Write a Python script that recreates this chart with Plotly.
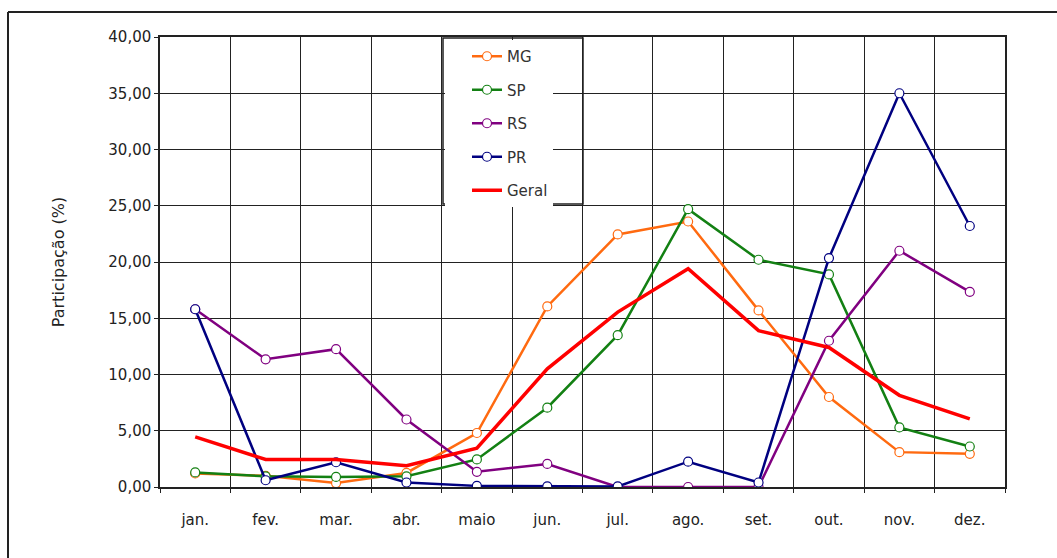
import plotly.graph_objects as go

months = ["jan.", "fev.", "mar.", "abr.", "maio", "jun.", "jul.", "ago.", "set.", "out.", "nov.", "dez."]
mg = [1.2, 1.0, 0.35, 1.25, 4.8, 16.05, 22.45, 23.6, 15.7, 8.0, 3.1, 2.95]
sp = [1.3, 0.95, 0.9, 0.95, 2.45, 7.05, 13.5, 24.7, 20.2, 18.9, 5.3, 3.6]
rs = [15.8, 11.35, 12.25, 6.0, 1.35, 2.05, 0.0, 0.0, 0.0, 13.0, 21.0, 17.35]
pr = [15.8, 0.6, 2.2, 0.4, 0.1, 0.05, 0.05, 2.25, 0.4, 20.35, 35.0, 23.2]
geral = [4.45, 2.45, 2.45, 1.9, 3.45, 10.5, 15.55, 19.4, 13.9, 12.4, 8.15, 6.05]

series = [
    ("MG", mg, "#ff6a10"),
    ("SP", sp, "#138013"),
    ("RS", rs, "#800080"),
    ("PR", pr, "#000080"),
]

fig = go.Figure()
for name, vals, col in series:
    fig.add_trace(go.Scatter(
        x=months, y=vals, name=name, mode="lines+markers",
        line=dict(color=col, width=2.5),
        marker=dict(symbol="circle", size=9, color="white", line=dict(color=col, width=1.2)),
        legendgroup=name,
    ))
fig.add_trace(go.Scatter(
    x=months, y=geral, name="Geral", mode="lines",
    line=dict(color="#ff0000", width=3.5), legendgroup="Geral",
))

W, H = 1057, 558
L, R, T, B = 160, 52, 37, 71
pw, ph = W - L - R, H - T - B

def px(x):
    return (x - L) / pw

def py(y):
    return (H - B - y) / ph

fig.update_layout(
    width=W, height=H,
    margin=dict(l=L, r=R, t=T, b=B),
    paper_bgcolor="white", plot_bgcolor="white",
    separators=",.",
    font=dict(family="DejaVu Sans", size=15, color="#222"),
    showlegend=True,
    legend=dict(
        x=px(445), y=py(40), xanchor="left", yanchor="top",
        bgcolor="white", borderwidth=0,
        font=dict(family="DejaVu Sans", size=15, color="#333"),
        traceorder="grouped", tracegroupgap=11, indentation=22,
    ),
    xaxis=dict(
        type="category", tickson="boundaries",
        showgrid=True, gridcolor="#222", gridwidth=1,
        showline=True, mirror=True, linecolor="#222", linewidth=1.5,
        ticks="outside", ticklen=4, tickcolor="#222",
        ticklabelstandoff=18,
        tickfont=dict(family="DejaVu Sans", size=15, color="#222"),
        range=[-0.5, 11.5],
    ),
    yaxis=dict(
        range=[0, 40], dtick=5, tick0=0, tickformat=".2f",
        showgrid=True, gridcolor="#222", gridwidth=1,
        showline=True, mirror=True, linecolor="#222", linewidth=1.5,
        ticks="outside", ticklen=4, tickcolor="#222",
        tickfont=dict(family="DejaVu Sans", size=15, color="#222"),
        title=dict(text="Participação (%)", font=dict(family="DejaVu Sans", size=16, color="#222"), standoff=40),
        zeroline=False,
    ),
    shapes=[
        dict(type="rect", xref="paper", yref="paper", x0=px(443), x1=px(583), y0=py(204), y1=py(38),
             line=dict(color="#222", width=1.5), layer="above"),
        dict(type="line", xref="paper", yref="paper", x0=px(8), x1=px(1060), y0=py(12), y1=py(12),
             line=dict(color="#222", width=2)),
        dict(type="line", xref="paper", yref="paper", x0=px(8), x1=px(8), y0=py(12), y1=py(560),
             line=dict(color="#222", width=2)),
    ],
)

fig.write_html("out.html", config={"displayModeBar": False},
               post_script="document.body.style.margin='0';document.body.style.padding='0';")
